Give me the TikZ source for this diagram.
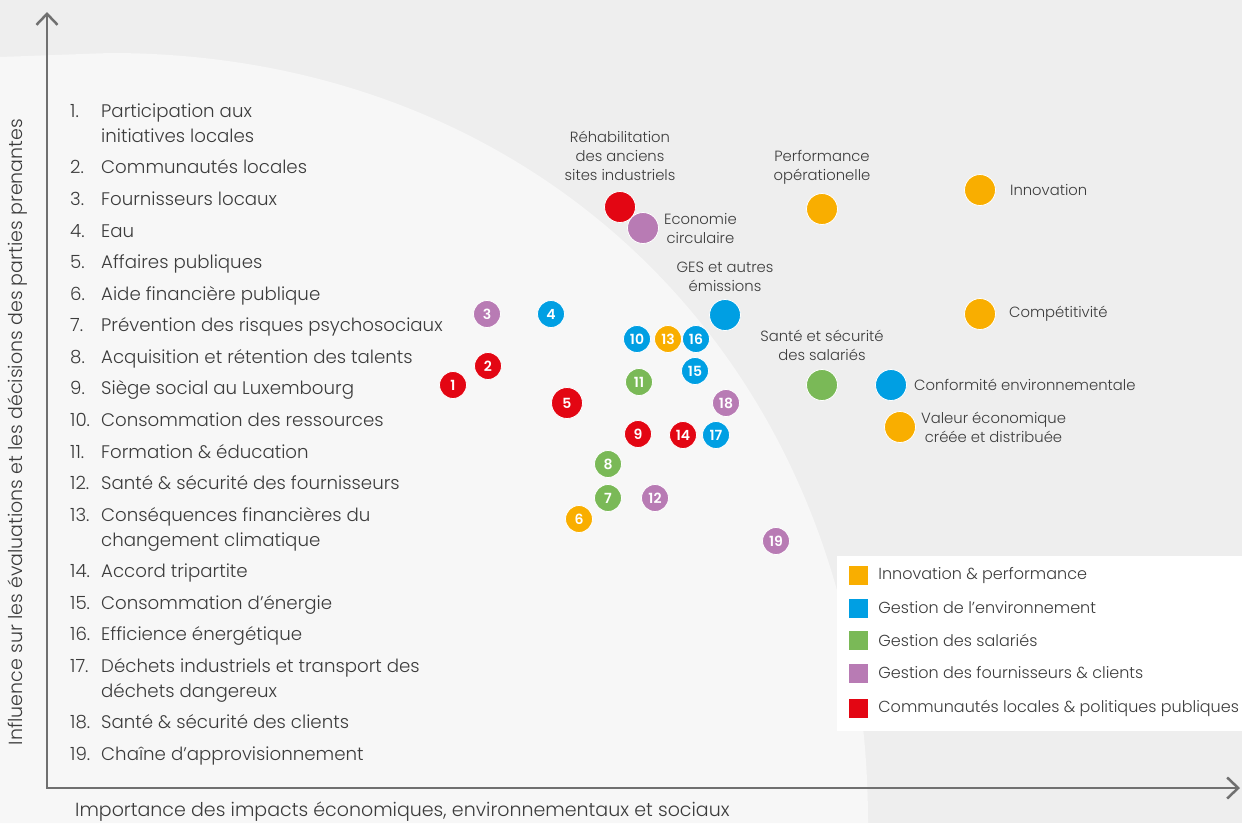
\documentclass[tikz,border=0pt]{standalone}
\usepackage{fontspec}
\setmainfont{Poppins}[UprightFont=* Light, BoldFont=* SemiBold]
\usepackage{xcolor}
\usepackage{tikz}
\usetikzlibrary{arrows.meta,positioning}

\definecolor{orangeC}{HTML}{F9AE00}
\definecolor{blueC}{HTML}{009FE3}
\definecolor{greenC}{HTML}{7AB957}
\definecolor{purpleC}{HTML}{B87BB4}
\definecolor{redC}{HTML}{E30613}
\definecolor{bgdark}{HTML}{EEEEEE}
\definecolor{bglight}{HTML}{F7F7F7}
\definecolor{ink}{HTML}{3C3C3C}
\definecolor{axisgray}{HTML}{707070}

\begin{document}
\begin{tikzpicture}[
  x=1pt, y=1pt,
  node distance=8pt,
  issue/.style={circle, draw=white, line width=0.8pt, minimum size=27pt, inner sep=0pt, text=white, font=\fontsize{14}{14}\selectfont\bfseries},
  theme/.style={circle, draw=white, line width=0.8pt, minimum size=31pt, inner sep=0pt},
  lbl/.style={align=center, inner sep=0pt, text=ink, font=\fontsize{14.8}{19}\selectfont},
  item/.style={anchor=base west, inner sep=0pt, text=ink, align=left, font=\fontsize{18.2}{25}\selectfont},
  swatch/.style={minimum size=19pt, inner sep=0pt},
  legtext/.style={right=10pt of #1, inner sep=0pt, text=ink, font=\fontsize{16}{16}\selectfont},
  axisline/.style={draw=axisgray, line width=2.5pt, {Straight Barb[length=11pt,width=21pt]}-{Straight Barb[length=11pt,width=21pt]}}
]
  \useasboundingbox (0,0) rectangle (1242,-823);
  % background and materiality zone
  \fill[bgdark] (0,0) rectangle (1242,-823);
  \fill[bglight] (0,-57) -- (110,-53) .. controls (550,-53) and (868,-376) .. (868,-823) -- (0,-823) -- cycle;

  % axes
  \coordinate (origin) at (47,-788);
  \coordinate (ytip) at (47,-12);
  \coordinate (xtip) at (1240,-788);
  \draw[axisline] (ytip) -- (origin) -- (xtip);
  \node[rotate=90, inner sep=0pt, text=ink, font=\fontsize{19}{19}\selectfont] (ylab) at (18,-432) {Influence sur les évaluations et les décisions des parties prenantes};
  \node[anchor=west, inner sep=0pt, text=ink, font=\fontsize{19}{19}\selectfont] (xlab) at (75,-812) {Importance des impacts économiques, environnementaux et sociaux};

  % list of issues (multi-line texts sit on their last baseline)
  \node[item] (n1) at (70,-117) {1.};  \node[item] (t1) at (101,-142) {Participation aux\\initiatives locales};
  \node[item] (n2) at (70,-173) {2.};  \node[item] (t2) at (101,-173) {Communautés locales};
  \node[item] (n3) at (70,-205) {3.};  \node[item] (t3) at (101,-205) {Fournisseurs locaux};
  \node[item] (n4) at (70,-237) {4.};  \node[item] (t4) at (101,-237) {Eau};
  \node[item] (n5) at (70,-268) {5.};  \node[item] (t5) at (101,-268) {Affaires publiques};
  \node[item] (n6) at (70,-300) {6.};  \node[item] (t6) at (101,-300) {Aide financière publique};
  \node[item] (n7) at (70,-331) {7.};  \node[item] (t7) at (101,-331) {Prévention des risques psychosociaux};
  \node[item] (n8) at (70,-363) {8.};  \node[item] (t8) at (101,-363) {Acquisition et rétention des talents};
  \node[item] (n9) at (70,-394) {9.};  \node[item] (t9) at (101,-394) {Siège social au Luxembourg};
  \node[item] (n10) at (70,-426) {10.}; \node[item] (t10) at (101,-426) {Consommation des ressources};
  \node[item] (n11) at (70,-458) {11.}; \node[item] (t11) at (101,-458) {Formation \& éducation};
  \node[item] (n12) at (70,-489) {12.}; \node[item] (t12) at (101,-489) {Santé \& sécurité des fournisseurs};
  \node[item] (n13) at (70,-521) {13.}; \node[item] (t13) at (101,-546) {Conséquences financières du\\changement climatique};
  \node[item] (n14) at (70,-577) {14.}; \node[item] (t14) at (101,-577) {Accord tripartite};
  \node[item] (n15) at (70,-609) {15.}; \node[item] (t15) at (101,-609) {Consommation d’énergie};
  \node[item] (n16) at (70,-640) {16.}; \node[item] (t16) at (101,-640) {Efficience énergétique};
  \node[item] (n17) at (70,-672) {17.}; \node[item] (t17) at (101,-697) {Déchets industriels et transport des\\déchets dangereux};
  \node[item] (n18) at (70,-728) {18.}; \node[item] (t18) at (101,-728) {Santé \& sécurité des clients};
  \node[item] (n19) at (70,-760) {19.}; \node[item] (t19) at (101,-760) {Chaîne d’approvisionnement};

  % major themes
  \node[theme, fill=redC] (rehab) at (620,-207) {};
  \node[lbl, above=10pt of rehab] (rehablbl) {Réhabilitation\\des anciens\\sites industriels};
  \node[theme, fill=purpleC] (circ) at (643,-228) {};
  \node[lbl, right=5pt of circ] (circlbl) {Economie\\circulaire};
  \node[theme, fill=orangeC] (perf) at (822,-209) {};
  \node[lbl, above=9pt of perf] (perflbl) {Performance\\opérationelle};
  \node[theme, fill=orangeC] (innov) at (980,-190) {};
  \node[lbl, right=14pt of innov] (innovlbl) {Innovation};
  \node[theme, fill=blueC] (ges) at (725,-315) {};
  \node[lbl, above=7pt of ges] (geslbl) {GES et autres\\émissions};
  \node[theme, fill=orangeC] (compet) at (980,-314) {};
  \node[lbl, right=13pt of compet] (competlbl) {Compétitivité};
  \node[theme, fill=greenC] (safety) at (822,-385) {};
  \node[lbl, above=8pt of safety] (safetylbl) {Santé et sécurité\\des salariés};
  \node[theme, fill=blueC] (comply) at (891,-385) {};
  \node[lbl, right=7pt of comply] (complylbl) {Conformité environnementale};
  \node[theme, fill=orangeC] (value) at (900,-427) {};
  \node[lbl, right=5pt of value] (valuelbl) {Valeur économique\\créée et distribuée};

  % numbered issues
  \node[issue, fill=redC] (i1) at (453,-385) {1};
  \node[issue, fill=redC] (i2) at (488,-366) {2};
  \node[issue, fill=purpleC] (i3) at (487,-314) {3};
  \node[issue, fill=blueC] (i4) at (551,-314) {4};
  \node[issue, fill=redC, minimum size=31pt] (i5) at (567,-403) {5};
  \node[issue, fill=orangeC] (i6) at (579,-519) {6};
  \node[issue, fill=greenC] (i7) at (608,-498) {7};
  \node[issue, fill=greenC] (i8) at (608,-464) {8};
  \node[issue, fill=redC] (i9) at (638,-434) {9};
  \node[issue, fill=blueC] (i10) at (637,-339) {10};
  \node[issue, fill=greenC] (i11) at (639,-382) {11};
  \node[issue, fill=purpleC] (i12) at (655,-498) {12};
  \node[issue, fill=orangeC] (i13) at (668,-339) {13};
  \node[issue, fill=redC] (i14) at (683,-435) {14};
  \node[issue, fill=blueC] (i15) at (695,-371) {15};
  \node[issue, fill=blueC] (i16) at (696,-339) {16};
  \node[issue, fill=blueC] (i17) at (716,-435) {17};
  \node[issue, fill=purpleC] (i18) at (726,-403) {18};
  \node[issue, fill=purpleC] (i19) at (776,-541) {19};

  % legend
  \node[fill=white, anchor=north west, minimum width=405pt, minimum height=175pt, inner sep=0pt] (legend) at (837,-556) {};
  \node[swatch, fill=orangeC] (s1) at (858.5,-575) {};
  \node[legtext=s1] (l1) {Innovation \& performance};
  \node[swatch, fill=blueC] (s2) at (858.5,-608) {};
  \node[legtext=s2] (l2) {Gestion de l’environnement};
  \node[swatch, fill=greenC] (s3) at (858.5,-640) {};
  \node[legtext=s3] (l3) {Gestion des salariés};
  \node[swatch, fill=purpleC] (s4) at (858.5,-673) {};
  \node[legtext=s4] (l4) {Gestion des fournisseurs \& clients};
  \node[swatch, fill=redC] (s5) at (858.5,-708) {};
  \node[legtext=s5] (l5) {Communautés locales \& politiques publiques};
\end{tikzpicture}
\end{document}
